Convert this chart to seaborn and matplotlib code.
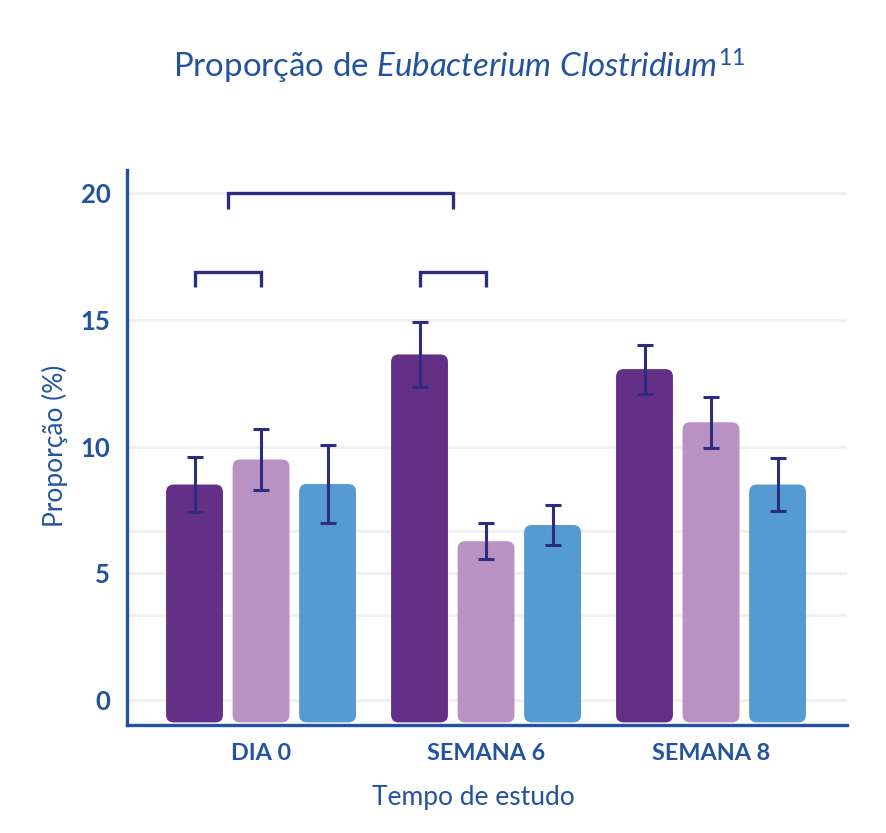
import matplotlib

matplotlib.use("Agg")
import matplotlib.pyplot as plt
import numpy as np
import pandas as pd
import seaborn as sns
from matplotlib.patches import FancyBboxPatch
from matplotlib.ticker import FixedLocator

# dados (proporcao media e desvio de cada grupo)
tempos = ["DIA 0", "SEMANA 6", "SEMANA 8"]
grupos = ["Grupo 1", "Grupo 2", "Grupo 3"]
prop_grupo1 = [8.5, 13.64, 13.06]
prop_grupo2 = [9.49, 6.26, 10.96]
prop_grupo3 = [8.52, 6.9, 8.5]
erro_grupo1 = [1.1, 1.3, 0.97]
erro_grupo2 = [1.2, 0.7, 1.0]
erro_grupo3 = [1.55, 0.78, 1.06]
y_ticks = [0, 5, 10, 15, 20]
y_grid_extra = [10 / 3, 20 / 3]
# colchetes de significancia: (tempo, grupo esq, grupo dir, altura)
colchetes = [("DIA 0", 0, 1, 16.9), ("SEMANA 6", 0, 1, 16.9)]
colchete_grande = 20.0

cores = ["#642f87", "#b991c2", "#559bd2"]
azul_txt = "#2352a0"
azul_erro = "#2e2c80"

df = pd.DataFrame({
    "tempo": tempos * 3,
    "grupo": np.repeat(grupos, 3),
    "prop": prop_grupo1 + prop_grupo2 + prop_grupo3,
    "erro": erro_grupo1 + erro_grupo2 + erro_grupo3,
})

sns.set_theme(style="white")
plt.rcParams["font.family"] = ["Lato", "DejaVu Sans"]
plt.rcParams["mathtext.fontset"] = "custom"
plt.rcParams["mathtext.rm"] = "Lato"
plt.rcParams["mathtext.it"] = "Lato:italic"

fig = plt.figure(figsize=(8.86, 8.33), dpi=100)
ax = fig.add_axes([0.1433, 0.1297, 0.8126, 0.6663])

sns.barplot(data=df, x="tempo", y="prop", hue="grupo", order=tempos, hue_order=grupos,
            palette=cores, width=0.887, gap=0.145, legend=False, errorbar=None,
            saturation=1, ax=ax)

ax.set_xlim(-0.596, 2.604)
ax.set_ylim(-1.0, 20.93)

# troca as barras por barras com cantos arredondados
asp = (21.93 / 555) / (3.2 / 720)
centros = {}
for gi, cont in enumerate(ax.containers):
    for ti, p in enumerate(list(cont.patches)):
        x, w, h = p.get_x(), p.get_width(), p.get_height()
        p.remove()
        base = -0.9
        fb = FancyBboxPatch((x, base), w, h - base,
                            boxstyle="round,pad=0,rounding_size=0.034",
                            mutation_aspect=asp, facecolor=cores[gi],
                            edgecolor="none", zorder=2)
        ax.add_patch(fb)
        centros[(tempos[ti], gi)] = (x + w / 2, h)

sub = df.set_index(["tempo", "grupo"])
for (t, gi), (xc, h) in centros.items():
    e = sub.loc[(t, grupos[gi]), "erro"]
    ax.errorbar(xc, h, yerr=e, fmt="none", ecolor=azul_erro, elinewidth=2.2,
                capsize=5.5, capthick=2.2, zorder=4)

# colchetes
meios = []
for t, a, b, y in colchetes:
    x1 = centros[(t, a)][0]
    x2 = centros[(t, b)][0]
    ax.plot([x1, x1, x2, x2], [y - 0.6, y, y, y - 0.6], color=azul_erro, lw=2.4,
            solid_joinstyle="miter", solid_capstyle="butt", zorder=4)
    meios.append((x1 + x2) / 2)
ax.plot([meios[0], meios[0], meios[1], meios[1]],
        [colchete_grande - 0.62, colchete_grande, colchete_grande, colchete_grande - 0.62],
        color=azul_erro, lw=2.4, solid_joinstyle="miter", solid_capstyle="butt", zorder=4)

# grade
ax.yaxis.set_major_locator(FixedLocator(y_ticks))
ax.yaxis.set_minor_locator(FixedLocator(y_grid_extra))
ax.grid(axis="y", which="both", color="#f1f1f1", lw=2.2, zorder=0)
ax.set_axisbelow(True)

for s in ["top", "right"]:
    ax.spines[s].set_visible(False)
for s in ["left", "bottom"]:
    ax.spines[s].set_color(azul_txt)
    ax.spines[s].set_linewidth(2.4)

ax.tick_params(axis="both", which="both", length=0)
ax.tick_params(axis="y", pad=12)
ax.tick_params(axis="x", pad=13)
for lab in ax.get_yticklabels():
    lab.set_fontweight("bold")
    lab.set_fontsize(18.5)
    lab.set_color(azul_txt)
for lab in ax.get_xticklabels():
    lab.set_fontweight("bold")
    lab.set_fontsize(16.8)
    lab.set_color(azul_txt)

ax.set_xlabel("Tempo de estudo", fontsize=19, color=azul_txt)
ax.xaxis.set_label_coords(0.481, -0.108)
ax.set_ylabel("Proporção (%)", fontsize=19, color=azul_txt)
ax.yaxis.set_label_coords(-0.082, 0.503)

fig.text(0.518, 0.92, r"Proporção de $\mathit{Eubacterium\ Clostridium}^{11}$",
         ha="center", va="center", fontsize=23.8, color=azul_txt)

fig.savefig("out.png", dpi=100)
